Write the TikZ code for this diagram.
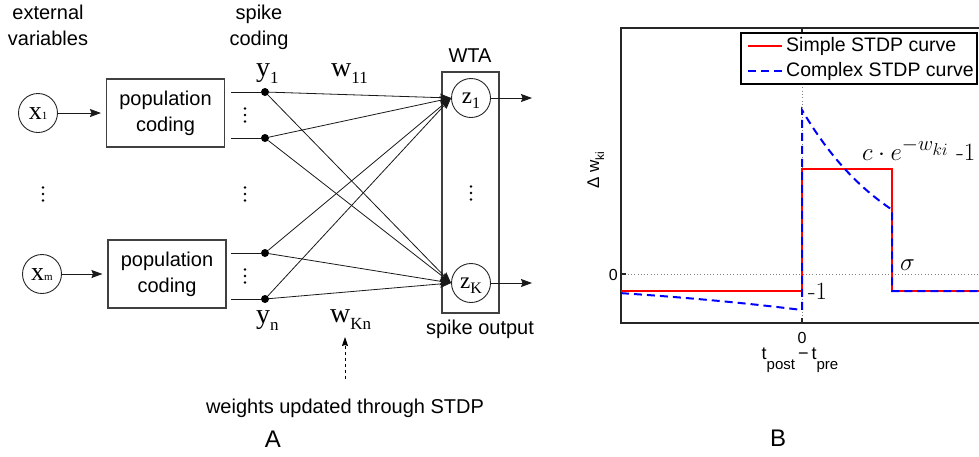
\documentclass[tikz,border=0pt]{standalone}
\usepackage{fontspec}
\newfontfamily\serA{Liberation Serif}
\newfontfamily\sansA{Liberation Sans}
\usetikzlibrary{arrows.meta}
\newcommand\vdotsA[1]{\foreach \dy in {-6.5,0,6.5} {\fill (#1) ++(0,\dy) circle (1.35pt);}}
\begin{document}
\begin{tikzpicture}[x=1pt,y=-1pt,
  sans/.style={font=\sansA\fontsize{20}{26}\selectfont},
  box/.style={draw=black!75, line width=1.1pt, minimum width=118pt, minimum height=68pt, align=center, inner sep=0pt, sans},
  neuron/.style={circle, draw=black!85, line width=0.9pt, minimum size=39pt, inner sep=0pt},
  dotn/.style={circle, fill=black, minimum size=8pt, inner sep=0pt},
  conn/.style={line width=0.8pt, black!90},
  arr/.style={conn, -{Stealth[length=11pt,width=8pt,inset=1.5pt]}},
  lab/.style={inner sep=0pt, anchor=base west},
  axisl/.style={line width=1.3pt, black!85},
  dotl/.style={gray, line width=0.7pt, dash pattern=on 0.8pt off 2.5pt},
  redc/.style={red, line width=2.2pt},
  bluec/.style={blue, line width=2pt, dash pattern=on 8pt off 5pt}
]
\useasboundingbox (0,0) rectangle (979,456);
\fill[white] (0,0) rectangle (979,456);

% ---------------- Part A ----------------
\node[sans, align=center, anchor=north, inner sep=0pt] (ext) at (48,5) {external\\variables};
\node[sans, align=center, anchor=north, inner sep=0pt] (spk) at (259,5) {spike\\coding};

\node[neuron, text height=12pt, text depth=0pt] (x1) at (38,113) {\serA\fontsize{26}{26}\selectfont x{\fontsize{11}{11}\selectfont 1}};
\node[neuron, text height=12pt, text depth=0pt] (xm) at (42,274) {\serA\fontsize{26}{26}\selectfont x{\fontsize{11}{11}\selectfont m}};

\node[box] (p1) at (165.5,113) {population\\coding};
\node[box] (p2) at (167,274) {population\\coding};

\draw[arr, shorten >=5pt] (x1) -- (p1);
\draw[arr, shorten >=5pt] (xm) -- (p2);

\node[dotn] (d1) at (265,92) {};
\node[dotn] (d2) at (265,138) {};
\node[dotn] (d3) at (265,253) {};
\node[dotn] (d4) at (265,299) {};
\coordinate (o1) at (231,92);
\coordinate (o2) at (231,138);
\coordinate (o3) at (231,253);
\coordinate (o4) at (231,299);
\draw[conn] (o1) -- (d1);
\draw[conn] (o2) -- (d2);
\draw[conn] (o3) -- (d3);
\draw[conn] (o4) -- (d4);

\vdotsA{43,194}
\vdotsA{245,115}
\vdotsA{245,194}
\vdotsA{245,276}
\vdotsA{471,193}

\node[draw=black!75, line width=1.1pt, minimum width=57pt, minimum height=241pt, inner sep=0pt] (wta) at (470.5,192.5) {};
\node[sans, anchor=base, inner sep=0pt] (wtal) at (470,62) {WTA};
\node[neuron, text height=10pt, text depth=0pt] (z1) at (471,98) {\serA\fontsize{23}{23}\selectfont z\raisebox{-5pt}{\fontsize{16}{16}\selectfont 1}};
\node[neuron, text height=10pt, text depth=0pt] (zK) at (471,283) {\serA\fontsize{23}{23}\selectfont z\raisebox{-5pt}{\fontsize{16}{16}\selectfont K}};

\foreach \d in {d1,d2,d3,d4} {
  \draw[arr] (\d) -- (z1.west);
  \draw[arr] (\d) -- (zK.west);
}
\coordinate (out1) at (532,98);
\coordinate (outK) at (532,283);
\draw[arr] (z1) -- (out1);
\draw[arr] (zK) -- (outK);

\node[lab] (y1) at (256,76) {\serA\fontsize{28}{28}\selectfont y\raisebox{-7pt}{\fontsize{17}{17}\selectfont 1}};
\node[lab] (yn) at (256,323) {\serA\fontsize{28}{28}\selectfont y\raisebox{-7pt}{\fontsize{17}{17}\selectfont n}};
\node[lab] (w11) at (331,76) {\serA\fontsize{28}{28}\selectfont w\raisebox{-7pt}{\fontsize{17}{17}\selectfont 11}};
\node[lab] (wKn) at (330,322) {\serA\fontsize{28}{28}\selectfont w\raisebox{-7pt}{\fontsize{17}{17}\selectfont Kn}};

\node[sans, anchor=base, inner sep=0pt] (spo) at (480,334) {spike output};
\node[sans, anchor=base, inner sep=0pt] (wt) at (345,413) {weights updated through STDP};
\coordinate (s0) at (345,379);
\coordinate (s1) at (345,337);
\draw[line width=0.8pt, dash pattern=on 3pt off 3pt, -{Stealth[length=9pt,width=6pt,inset=1pt]}] (s0) -- (s1);

\node[anchor=base, inner sep=0pt, font=\sansA\fontsize{24}{24}\selectfont] (A) at (273,447) {A};
\node[anchor=base, inner sep=0pt, font=\sansA\fontsize{24}{24}\selectfont] (B) at (778,446) {B};

% ---------------- Part B ----------------
\draw[dotl] (802,28) -- (802,323);
\draw[dotl] (621,274) -- (979,274);
\draw[axisl] (979,28) -- (621,28) -- (621,323) -- (979,323);
\draw[axisl] (802,323) -- (802,318);
\draw[axisl] (802,28) -- (802,32);
\draw[axisl] (621,274) -- (626,274);

\draw[redc] (621,291) -- (802,291) -- (802,169) -- (892,169) -- (892,291) -- (979,291);
\draw[bluec] plot[domain=-181:0, samples=30] ({802+\x},{274+36*exp(0.0035*\x)}) -- (802,110)
   -- plot[domain=0:90, samples=40] ({802+\x},{274-164*exp(-0.0104*\x)}) -- (892,291) -- (979,291);

\draw[fill=white, line width=1.1pt] (741,33) rectangle (977,84);
\draw[redc] (748,46) -- (782,46);
\draw[bluec] (748,71) -- (782,71);
\node[anchor=west, inner sep=0pt, font=\sansA\fontsize{19.5}{20}\selectfont] (lg1) at (786,46) {Simple STDP curve};
\node[anchor=west, inner sep=0pt, font=\sansA\fontsize{19.5}{20}\selectfont] (lg2) at (786,71) {Complex STDP curve};

\node[anchor=base, inner sep=0pt, font=\sansA\fontsize{16}{16}\selectfont] (tx0) at (802,343) {0};
\node[anchor=east, inner sep=0pt, font=\sansA\fontsize{16}{16}\selectfont] (ty0) at (618,275) {0};
\node[anchor=base, inner sep=0pt, font=\sansA\fontsize{18}{18}\selectfont] (xl) at (800,359) {t\raisebox{-10pt}{\fontsize{15}{15}\selectfont post}\,−\,t\raisebox{-10pt}{\fontsize{15}{15}\selectfont pre}};
\node[rotate=90, anchor=base, inner sep=0pt, font=\sansA\fontsize{17}{17}\selectfont] (yl) at (599,170) {Δ w\raisebox{-5pt}{\fontsize{12}{12}\selectfont ki}};

\node[anchor=base west, inner sep=0pt, font=\fontsize{24.88}{26}\selectfont] (f1) at (862,160) {$c\cdot e^{-w_{ki}}$ -1};
\node[anchor=base west, inner sep=0pt, font=\fontsize{24.88}{26}\selectfont] (f2) at (900,270) {$\sigma$};
\node[anchor=base west, inner sep=0pt, font=\fontsize{24.88}{26}\selectfont] (f3) at (808,299) {-1};
\end{tikzpicture}
\end{document}
